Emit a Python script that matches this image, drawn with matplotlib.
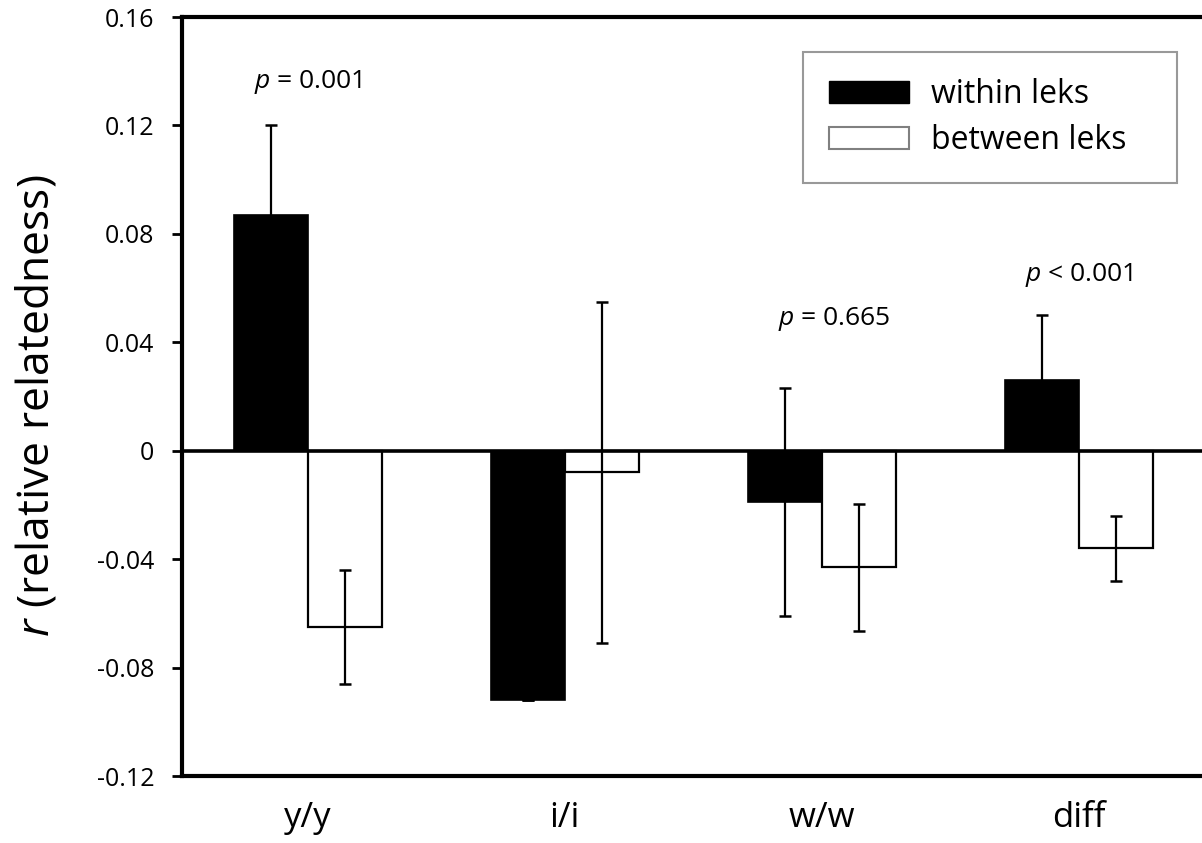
import matplotlib
matplotlib.use("Agg")
import matplotlib.pyplot as plt
import numpy as np
from matplotlib.patches import Patch

categories = ["y/y", "i/i", "w/w", "diff"]
within_vals = [0.087, -0.092, -0.019, 0.026]
within_err = [0.033, 0.0, 0.042, 0.024]
between_vals = [-0.065, -0.008, -0.043, -0.036]
between_err = [0.021, 0.063, 0.0235, 0.012]
p_labels = [r"$p$ = 0.001", None, r"$p$ = 0.665", r"$p$ < 0.001"]
p_pos = [(0.0, 0.136), None, (2.05, 0.0485), (3.0, 0.065)]
yticks = [-0.12, -0.08, -0.04, 0, 0.04, 0.08, 0.12, 0.16]
ytick_labels = ["-0.12", "-0.08", "-0.04", "0", "0.04", "0.08", "0.12", "0.16"]

plt.rcParams["font.family"] = ["Open Sans", "DejaVu Sans"]
plt.rcParams["mathtext.fontset"] = "custom"
plt.rcParams["mathtext.it"] = "Open Sans:italic"
plt.rcParams["mathtext.rm"] = "Open Sans"

W, H = 1202, 843
fig = plt.figure(figsize=(W/100, H/100), dpi=100)
ax = fig.add_axes([182/W, 1-776/H, 1-182/W, (776-17)/H])

x = np.arange(len(categories))
w = 0.288
ax.bar(x - w/2, within_vals, width=w, color="black", edgecolor="black", linewidth=1.2, zorder=2)
ax.bar(x + w/2, between_vals, width=w, color="white", edgecolor="black", linewidth=1.6, zorder=2)
ekw = dict(fmt="none", ecolor="black", elinewidth=1.6, capsize=4, capthick=1.8, zorder=3)
ax.errorbar(x - w/2, within_vals, yerr=within_err, **ekw)
ax.errorbar(x + w/2, between_vals, yerr=between_err, **ekw)
ax.axhline(0, color="black", linewidth=2.6, zorder=4)

ax.set_xlim(-0.49, 3.48)
ax.set_ylim(-0.12, 0.16)
ax.set_yticks(yticks)
ax.set_yticklabels(ytick_labels, fontsize=18)
ax.set_xticks(x)
ax.set_xticklabels(categories, fontsize=25)
ax.tick_params(axis="x", length=0, pad=18)
ax.tick_params(axis="y", direction="out", length=7, width=2, pad=13)
for s in ["left", "top", "bottom"]:
    ax.spines[s].set_linewidth(3)
ax.spines["right"].set_visible(False)

fig.text(37/W, 1-406/H, r"$r$ (relative relatedness)", rotation=90,
         ha="center", va="center", fontsize=32)

for lab, pos in zip(p_labels, p_pos):
    if lab:
        ax.text(pos[0], pos[1], lab, ha="center", va="center", fontsize=19)

handles = [Patch(facecolor="black", edgecolor="black", label="within leks"),
           Patch(facecolor="white", edgecolor="gray", linewidth=1.5, label="between leks")]
leg = ax.legend(handles=handles, loc="upper left",
                bbox_to_anchor=((803-182)/1020, (776-178)/759, (1177-803)/1020, 126/759),
                mode="expand", borderaxespad=0, fontsize=23, frameon=True, fancybox=False,
                handlelength=2.5, handleheight=0.66, handletextpad=0.7,
                labelspacing=0.4, borderpad=0.82)
leg.get_frame().set_edgecolor("gray")
leg.get_frame().set_linewidth(1.5)

fig.savefig("out.png", dpi=100)
